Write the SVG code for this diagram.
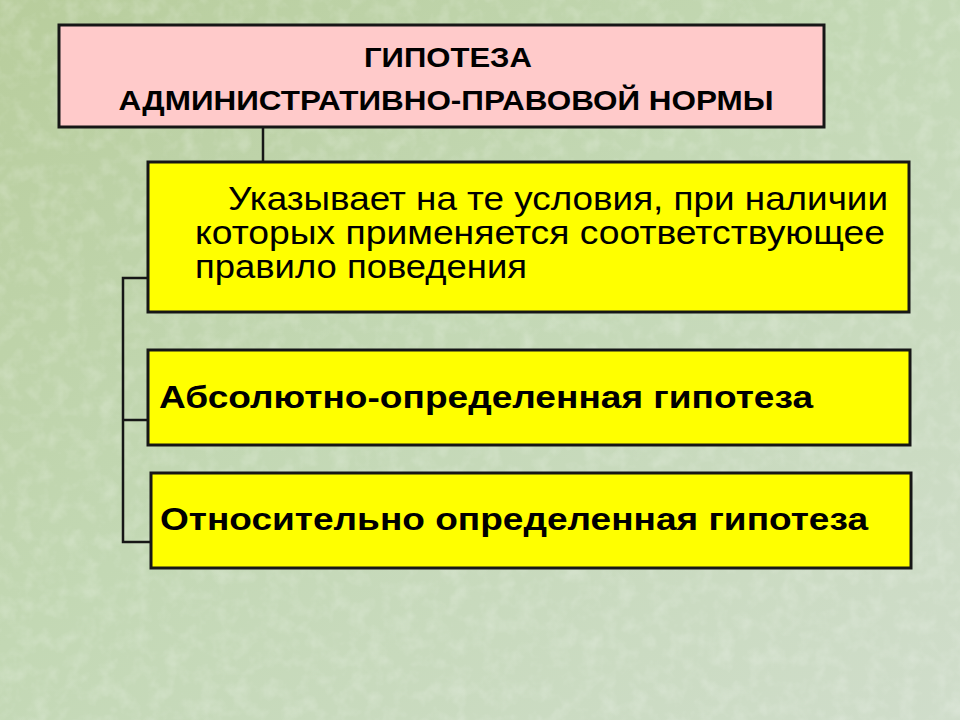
<svg xmlns="http://www.w3.org/2000/svg" width="960" height="720" viewBox="0 0 960 720">
<defs>
<linearGradient id="bg" x1="0" y1="0" x2="1" y2="1">
<stop offset="0" stop-color="#b8cd9c"/>
<stop offset="0.45" stop-color="#c3d8b4"/>
<stop offset="1" stop-color="#d0ddcb"/>
</linearGradient>
<filter id="tex" x="0" y="0" width="100%" height="100%">
<feTurbulence type="fractalNoise" baseFrequency="0.06" numOctaves="3" seed="4" result="n"/>
<feColorMatrix in="n" type="matrix" values="0 0 0 0 1  0 0 0 0 1  0 0 0 0 1  0 0 0 -2.2 1.25" />
</filter>
</defs>
<style>
.box{stroke:#161616;stroke-width:3}
.pink{fill:#ffcaca}
.yel{fill:#ffff00}
.conn{fill:none;stroke:#161616;stroke-width:2.5}
.t{font-family:"Liberation Sans",Arial,sans-serif;fill:#000}
.b{font-weight:bold}
</style>
<rect width="960" height="720" fill="url(#bg)"/>
<rect width="960" height="720" filter="url(#tex)" opacity="0.2"/>
<g id="connectors">
<path class="conn" d="M263,128 V162"/>
<path class="conn" d="M148,278 H123 V542 H151 M123,420 H148"/>
</g>
<g id="node-title">
<rect class="box pink" x="59" y="25" width="765" height="102"/>
<text class="t b" x="448" y="67" font-size="28" text-anchor="middle" textLength="168" lengthAdjust="spacingAndGlyphs">ГИПОТЕЗА</text>
<text class="t b" x="446" y="110" font-size="28" text-anchor="middle" textLength="655" lengthAdjust="spacingAndGlyphs">АДМИНИСТРАТИВНО-ПРАВОВОЙ НОРМЫ</text>
</g>
<g id="node-desc">
<rect class="box yel" x="148" y="162" width="761" height="150"/>
<text class="t" x="228" y="210" font-size="33" textLength="660" lengthAdjust="spacingAndGlyphs">Указывает на те условия, при наличии</text>
<text class="t" x="195" y="244" font-size="33" textLength="690" lengthAdjust="spacingAndGlyphs">которых применяется соответствующее</text>
<text class="t" x="195" y="278" font-size="33" textLength="332" lengthAdjust="spacingAndGlyphs">правило поведения</text>
</g>
<g id="node-absolute">
<rect class="box yel" x="148" y="350" width="762" height="95"/>
<text class="t b" x="159" y="408" font-size="32" textLength="654" lengthAdjust="spacingAndGlyphs">Абсолютно-определенная гипотеза</text>
</g>
<g id="node-relative">
<rect class="box yel" x="151" y="473" width="760" height="95"/>
<text class="t b" x="160" y="530" font-size="32" textLength="708" lengthAdjust="spacingAndGlyphs">Относительно определенная гипотеза</text>
</g>
</svg>
